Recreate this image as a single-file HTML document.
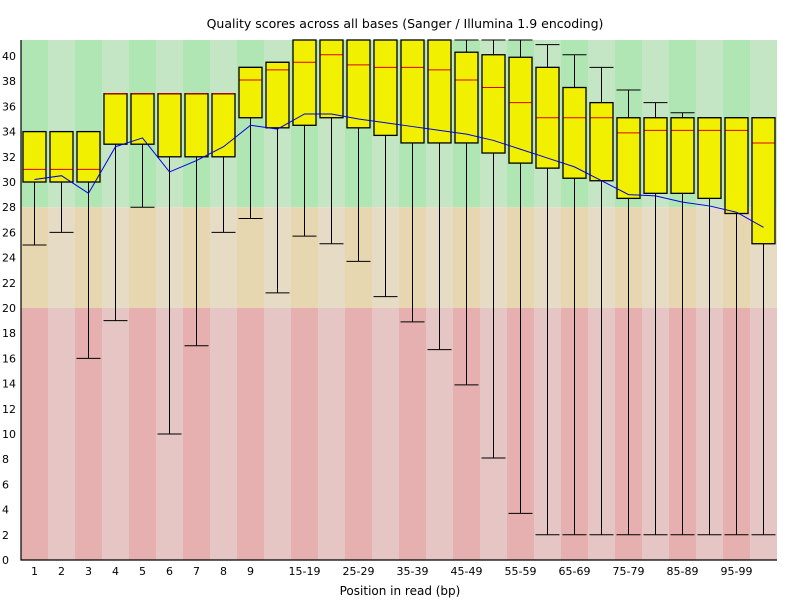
<!DOCTYPE html>
<html><head><meta charset="utf-8"><style>
body{margin:0;background:#fff;}
svg{display:block;font-family:"DejaVu Sans","Liberation Sans",sans-serif;font-size:11px;}
</style></head><body>
<svg id="chart" width="800" height="600" xmlns="http://www.w3.org/2000/svg">
<text x="405" y="28" text-anchor="middle" style="font-size:12.5px">Quality scores across all bases (Sanger / Illumina 1.9 encoding)</text>
<text x="400" y="595" text-anchor="middle" style="font-size:12px">Position in read (bp)</text>
</svg>
<script>
const categories=["1","2","3","4","5","6","7","8","9","10-14","15-19","20-24","25-29","30-34","35-39","40-44","45-49","50-54","55-59","60-64","65-69","70-74","75-79","80-84","85-89","90-94","95-99","100-101"];
const xLabels=["1","2","3","4","5","6","7","8","9","","15-19","","25-29","","35-39","","45-49","","55-59","","65-69","","75-79","","85-89","","95-99",""];
const medians=[31,31,31,37,37,37,37,37,38.1,38.9,39.5,40.1,39.3,39.1,39.1,38.9,38.1,37.5,36.3,35.1,35.1,35.1,33.9,34.1,34.1,34.1,34.1,33.1];
const q1=[30,30,30,33,33,32,32,32,35.1,34.3,34.5,35.1,34.3,33.7,33.1,33.1,33.1,32.3,31.5,31.1,30.3,30.1,28.7,29.1,29.1,28.7,27.5,25.1];
const q3=[34,34,34,37,37,37,37,37,39.1,39.5,41.5,41.5,41.5,41.5,41.5,41.5,40.3,40.1,39.9,39.1,37.5,36.3,35.1,35.1,35.1,35.1,35.1,35.1];
const lowW=[25,26,16,19,28,10,17,26,27.1,21.2,25.7,25.1,23.7,20.9,18.9,16.7,13.9,8.1,3.7,2,2,2,2,2,2,2,2,2];
const highW=[34,34,34,37,37,37,37,37,39.1,39.5,41.5,41.5,41.5,41.5,41.5,41.5,41.5,41.5,41.5,40.9,40.1,39.1,37.3,36.3,35.5,35.1,35.1,35.1];
const means=[30.2,30.5,29.1,32.8,33.5,30.8,31.7,32.8,34.5,34.2,35.4,35.4,35.0,34.7,34.4,34.1,33.8,33.3,32.6,31.9,31.2,30.1,29.0,28.9,28.4,28.1,27.6,26.4];
const yTicks=[0,2,4,6,8,10,12,14,16,18,20,22,24,26,28,30,32,34,36,38,40];

const svg=document.getElementById('chart');
const NS='http://www.w3.org/2000/svg';
const L=21,R=777,T=40,B=560,colW=27,yMax=41.27;
const xC=i=>L+colW*i+colW/2;
const yS=v=>B-(Math.min(v,yMax))*(B-T)/yMax;
function mk(tag,attrs){const e=document.createElementNS(NS,tag);for(const k in attrs)e.setAttribute(k,attrs[k]);svg.appendChild(e);return e;}
const bands=[[28,yMax,['#b0e6b4','#c5e6c5']],[20,28,['#e6d7b0','#e6dcc5']],[0,20,['#e6b0b0','#e6c5c5']]];
bands.forEach((b,bi)=>{
  categories.forEach((c,i)=>{
    const r=mk('rect',{x:L+colW*i,y:yS(b[1]),width:colW,height:yS(b[0])-yS(b[1]),fill:b[2][i%2]});
    
    
  });
});
categories.forEach((c,i)=>{
  const cx=xC(i);
  const g=document.createElementNS(NS,'g');svg.appendChild(g);
  
  
  const ln=(x1,y1,x2,y2,col)=>{const e=document.createElementNS(NS,'line');e.setAttribute('x1',x1);e.setAttribute('y1',y1);e.setAttribute('x2',x2);e.setAttribute('y2',y2);e.setAttribute('stroke',col||'#000');e.setAttribute('stroke-width',1);g.appendChild(e);return e;};
  ln(cx,yS(lowW[i]),cx,yS(q1[i]));
  ln(cx-12,yS(lowW[i]),cx+12,yS(lowW[i]));
  ln(cx,yS(q3[i]),cx,yS(highW[i]));
  ln(cx-12,yS(highW[i]),cx+12,yS(highW[i]));
  const b=document.createElementNS(NS,'rect');
  b.setAttribute('x',cx-11.5);b.setAttribute('y',yS(q3[i]));b.setAttribute('width',23);b.setAttribute('height',yS(q1[i])-yS(q3[i]));
  b.setAttribute('fill','#f0f000');b.setAttribute('stroke','#000');b.setAttribute('stroke-width',1.3);
  g.appendChild(b);
  ln(cx-11,yS(medians[i]),cx+11,yS(medians[i]),'#e00000');
});
const pl=mk('polyline',{points:means.map((m,i)=>xC(i)+','+yS(m)).join(' '),fill:'none',stroke:'#0000e0','stroke-width':1});


const ax=mk('path',{d:`M${L},${T} V${B} H${R}`,fill:'none',stroke:'#000','stroke-width':1.2});


yTicks.forEach(v=>{
  const t=mk('text',{x:2,y:yS(v)+4});t.textContent=v;
  
  
});
xLabels.forEach((lab,i)=>{
  if(!lab)return;
  const t=mk('text',{x:xC(i),y:575,'text-anchor':'middle'});t.textContent=lab;
  
  
});
</script>
</body></html>
